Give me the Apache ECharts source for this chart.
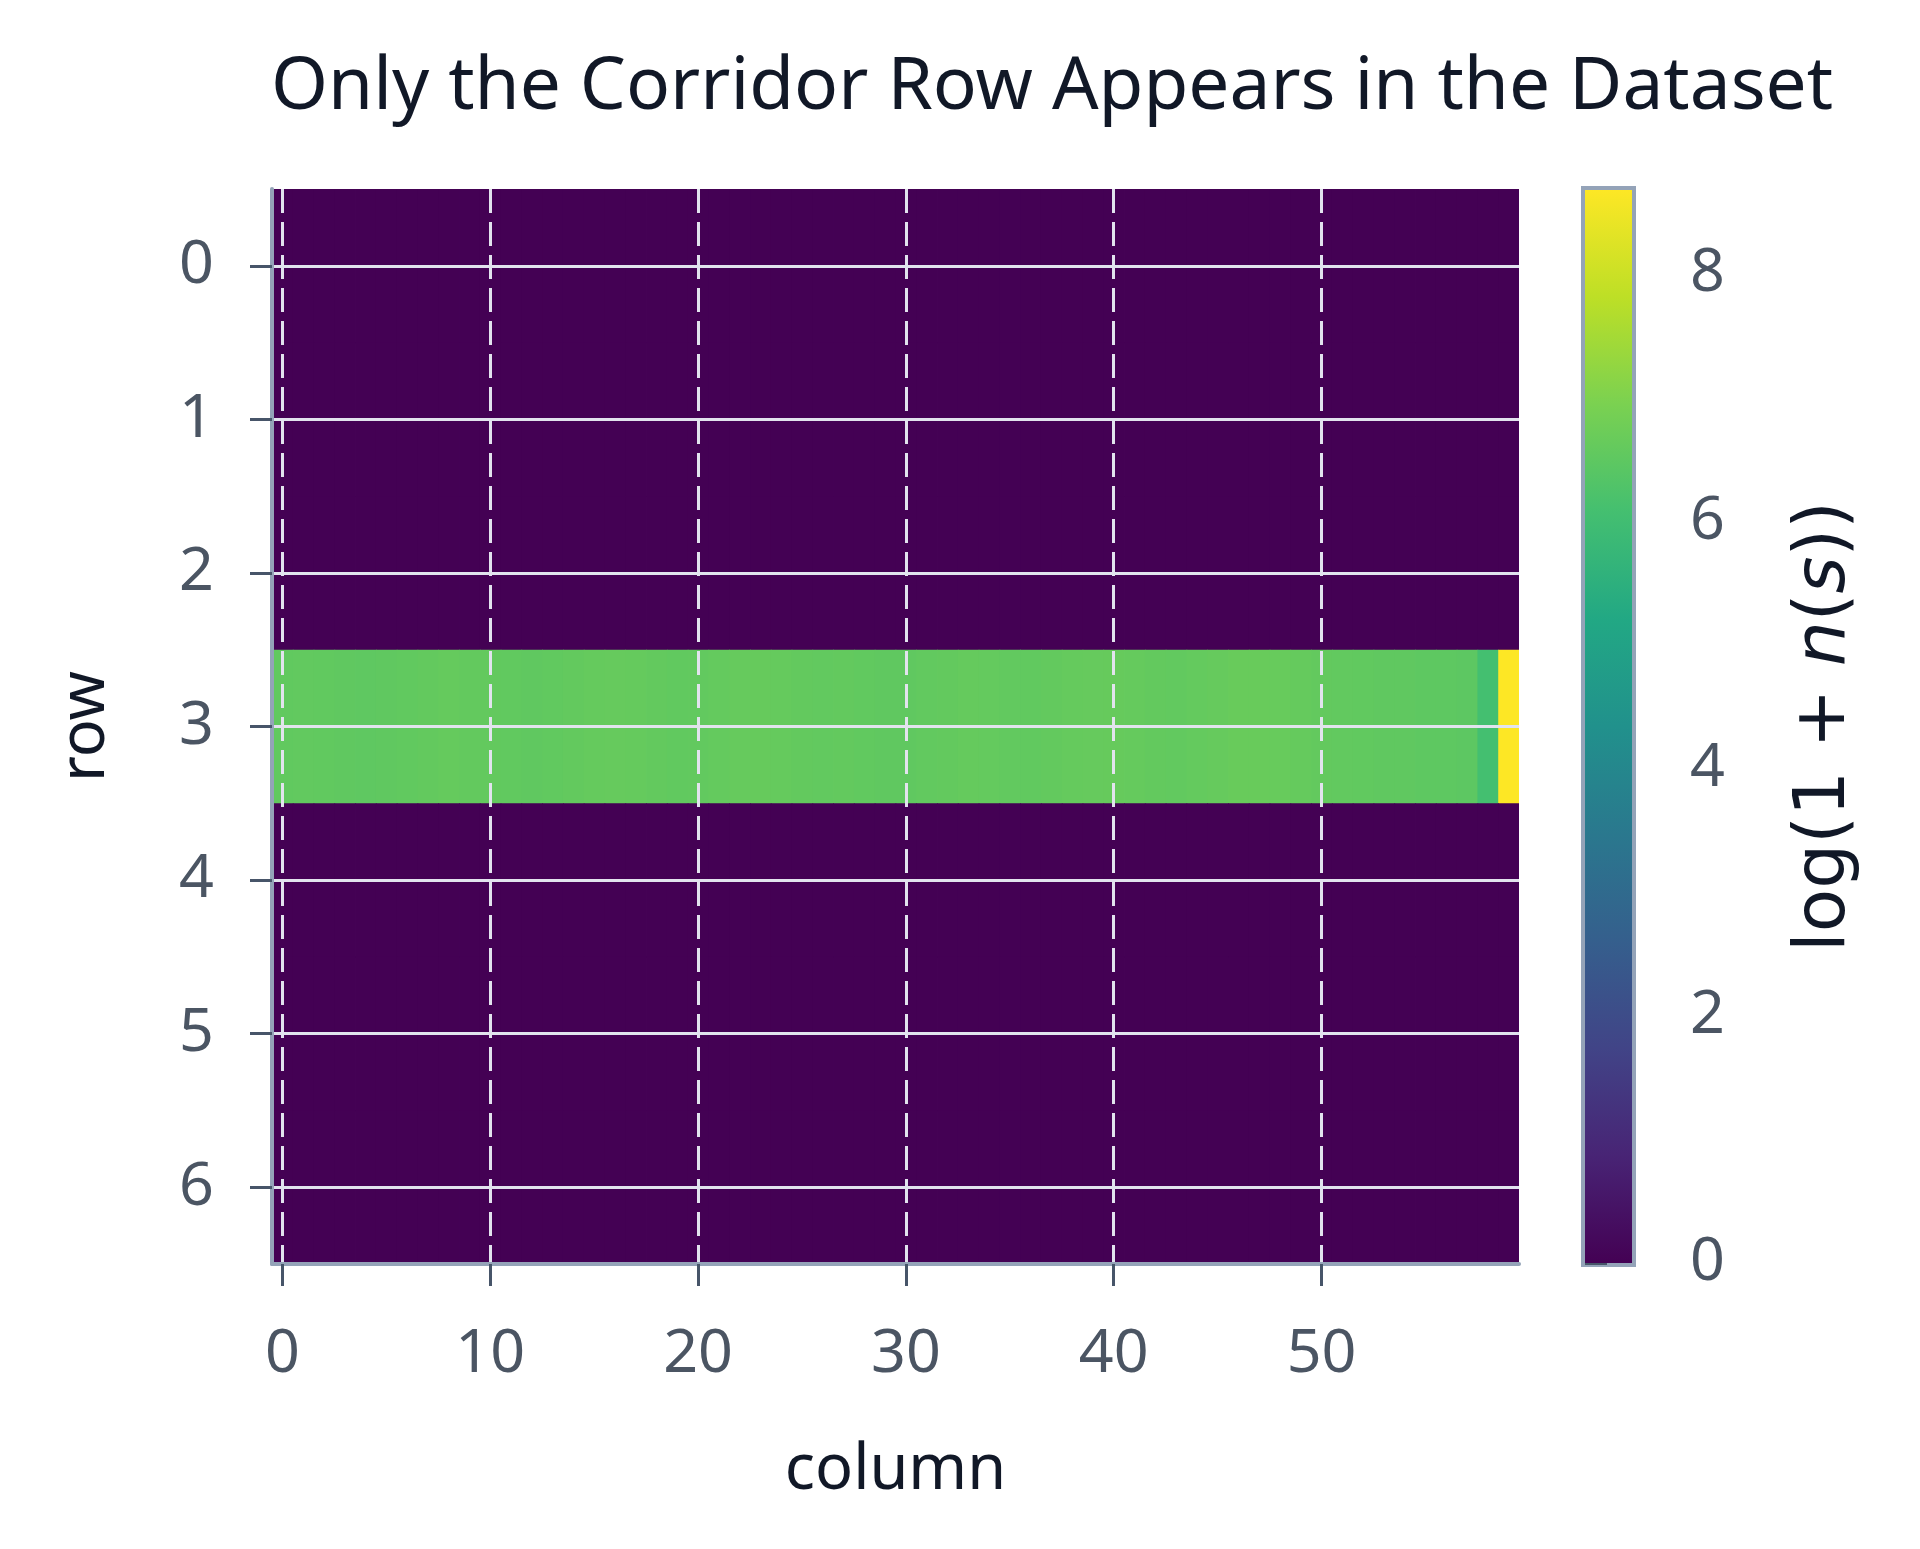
<!DOCTYPE html>
<html>
<head>
<meta charset="utf-8">
<title>Only the Corridor Row Appears in the Dataset</title>
<script src="https://cdn.jsdelivr.net/npm/echarts@6/dist/echarts.min.js"></script>
<style>
    html, body { margin: 0; padding: 0; background: #ffffff; }
    #main { width: 1920px; height: 1549px; }
</style>
</head>
<body>
<div id="main"></div>
<script>
// grid size
const rows = ['0', '1', '2', '3', '4', '5', '6'];
const columns = [];
for (let c = 0; c < 60; c++) columns.push(String(c));

// only row 3 has counts, the rest are empty (0)
const corridorRow = 3;
const emptyValue = 0;
const corridorValues = [
    6.55, 6.56, 6.54, 6.52, 6.51, 6.53, 6.55, 6.58, 6.60, 6.58,
    6.57, 6.55, 6.53, 6.54, 6.57, 6.60, 6.62, 6.61, 6.58, 6.55,
    6.56, 6.59, 6.62, 6.63, 6.61, 6.58, 6.56, 6.57, 6.55, 6.52,
    6.53, 6.56, 6.58, 6.60, 6.59, 6.56, 6.54, 6.57, 6.60, 6.62,
    6.63, 6.61, 6.58, 6.56, 6.59, 6.62, 6.65, 6.66, 6.64, 6.61,
    6.58, 6.56, 6.55, 6.53, 6.52, 6.50, 6.49, 6.47, 6.08, 8.68
];

const colorMin = 0;
const colorMax = 8.68;
const colorTicks = [0, 2, 4, 6, 8];

const viridis = [
    '#440154', '#482475', '#414487', '#355f8d', '#2a788e', '#21918c',
    '#22a884', '#44bf70', '#7ad151', '#bddf26', '#fde725'
];

const cells = [];
rows.forEach(function (r, ri) {
    columns.forEach(function (c, ci) {
        cells.push([ci, ri, ri === corridorRow ? corridorValues[ci] : emptyValue]);
    });
});

const font = '"Noto Sans", "DejaVu Sans", sans-serif';
const mathFont = '"DejaVu Sans", sans-serif';
const tickColor = '#475569';
const labelColor = '#4b5563';
const gridLineColor = '#e2e3ee';

const everyTen = function (idx) { return idx % 10 === 0; };

let myChart = echarts.init(document.getElementById('main'));

let option = {
    backgroundColor: '#ffffff',
    animation: false,
    title: {
        text: 'Only the Corridor Row Appears in the Dataset',
        left: 271,
        top: 52,
        padding: 0,
        textStyle: { fontFamily: font, fontSize: 73, fontWeight: 'normal', color: '#111827' }
    },
    grid: [
        { left: 272, top: 189, width: 1247, height: 1075, containLabel: false },
        { left: 1585, top: 190, width: 47, height: 1073, show: true,
          borderColor: '#94a3b8', borderWidth: 8, backgroundColor: 'transparent' }
    ],
    xAxis: [
        {
            type: 'category',
            gridIndex: 0,
            data: columns,
            z: 10,
            name: 'column',
            nameLocation: 'middle',
            nameGap: 176,
            nameTextStyle: { fontFamily: font, fontSize: 63, color: '#111827' },
            axisLine: { show: true, lineStyle: { color: '#94a3b8', width: 4 } },
            axisTick: { show: true, alignWithLabel: true, interval: everyTen, length: 22,
                        lineStyle: { color: tickColor, width: 3 } },
            axisLabel: { interval: everyTen, margin: 60, fontFamily: font, fontSize: 61, color: labelColor },
            splitLine: { show: true, alignWithLabel: true, interval: everyTen,
                         lineStyle: { color: gridLineColor, width: 3, type: [24, 9] } }
        },
        { type: 'value', gridIndex: 1, min: 0, max: 1, show: false }
    ],
    yAxis: [
        {
            type: 'category',
            gridIndex: 0,
            data: rows,
            inverse: true,
            z: 10,
            name: 'row',
            nameLocation: 'middle',
            nameRotate: 90,
            nameGap: 154,
            nameTextStyle: { fontFamily: font, fontSize: 63, color: '#111827' },
            axisLine: { show: true, lineStyle: { color: '#94a3b8', width: 4 } },
            axisTick: { show: true, alignWithLabel: true, interval: 0, length: 22,
                        lineStyle: { color: tickColor, width: 3 } },
            axisLabel: { interval: 0, margin: 58, fontFamily: font, fontSize: 61, color: labelColor },
            splitLine: { show: true, alignWithLabel: true, interval: 0,
                         lineStyle: { color: gridLineColor, width: 3 } }
        },
        {
            type: 'value',
            gridIndex: 1,
            position: 'right',
            min: colorMin,
            max: colorMax,
            name: '{a|log(1 + }{i|n}{a|(}{i|s}{a|))}',
            nameLocation: 'middle',
            nameRotate: 90,
            nameGap: 158,
            nameTextStyle: {
                fontFamily: mathFont, fontSize: 71, color: '#111827',
                rich: {
                    a: { fontFamily: mathFont, fontSize: 71, color: '#111827' },
                    i: { fontFamily: mathFont, fontSize: 71, fontStyle: 'italic', color: '#111827' }
                }
            },
            axisLine: { show: false },
            splitLine: { show: false },
            axisTick: { show: true, customValues: colorTicks, length: 22,
                        lineStyle: { color: tickColor, width: 3 } },
            axisLabel: { customValues: colorTicks, margin: 58, fontFamily: font, fontSize: 61, color: labelColor }
        }
    ],
    visualMap: {
        show: false,
        type: 'continuous',
        seriesIndex: 0,
        dimension: 2,
        min: colorMin,
        max: colorMax,
        inRange: { color: viridis }
    },
    series: [
        {
            // heatmap cells, slightly overlapped so no seams show between them
            type: 'custom',
            xAxisIndex: 0,
            yAxisIndex: 0,
            data: cells,
            encode: { x: 0, y: 1 },
            clip: true,
            silent: true,
            renderItem: function (params, api) {
                let p = api.coord([api.value(0), api.value(1)]);
                let s = api.size([1, 1]);
                return {
                    type: 'rect',
                    shape: { x: p[0] - s[0] / 2, y: p[1] - s[1] / 2, width: s[0] + 0.8, height: s[1] + 0.8 },
                    style: { fill: api.visual('color') }
                };
            }
        },
        {
            // colour bar drawn on its own axis
            type: 'custom',
            xAxisIndex: 1,
            yAxisIndex: 1,
            silent: true,
            data: [[0, colorMin, colorMax]],
            renderItem: function (params, api) {
                let top = api.coord([0, api.value(2)]);
                let bottom = api.coord([1, api.value(1)]);
                let stops = viridis.map(function (c, i) {
                    return { offset: 1 - i / (viridis.length - 1), color: c };
                }).reverse();
                return {
                    type: 'rect',
                    shape: { x: top[0], y: top[1], width: bottom[0] - top[0], height: bottom[1] - top[1] },
                    style: { fill: new echarts.graphic.LinearGradient(0, 0, 0, 1, stops) }
                };
            }
        }
    ]
};

myChart.setOption(option);
</script>
</body>
</html>
